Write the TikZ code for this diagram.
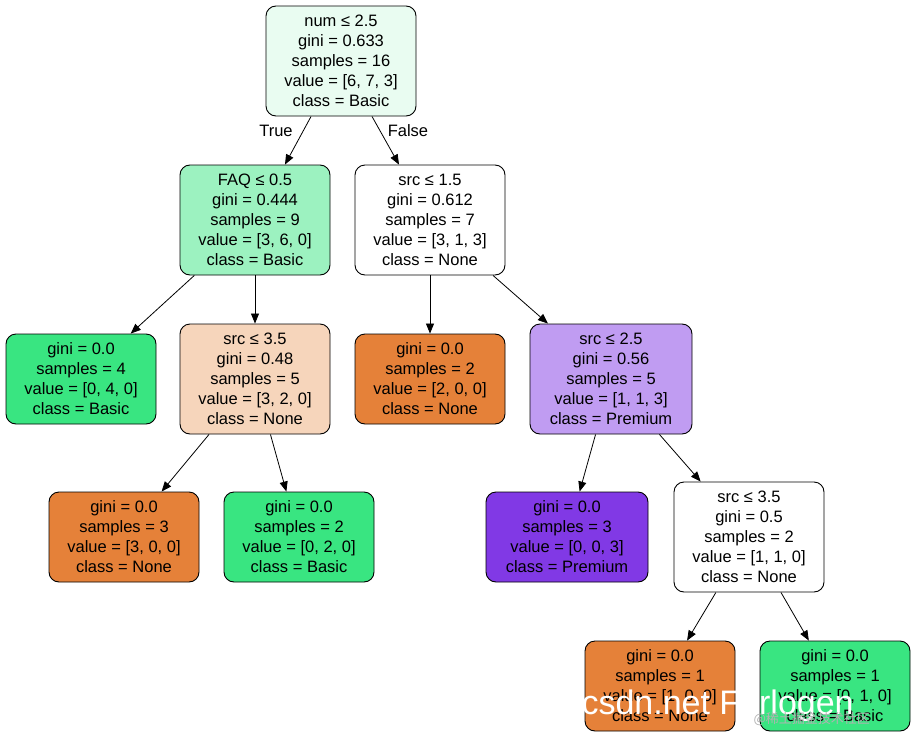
\documentclass[tikz,border=0pt]{standalone}
\usepackage{fontspec}
\setmainfont{Liberation Sans}
\newfontfamily\cjk{Noto Sans CJK SC}
\usetikzlibrary{arrows.meta}
\definecolor{croot}{HTML}{E9FCF1}
\definecolor{cfaq}{HTML}{9CF2C0}
\definecolor{csrcb}{HTML}{F6D5BB}
\definecolor{corange}{HTML}{E58139}
\definecolor{cgreen}{HTML}{39E581}
\definecolor{cpurple}{HTML}{8139E5}
\definecolor{clav}{HTML}{C09CF2}
\tikzset{
 tn/.style={draw=black, line width=0.9pt, rounded corners=10pt, align=center, inner sep=0pt,
   minimum width=150pt, font=\fontsize{16.5}{20}\selectfont},
 big/.style={tn, minimum height=110pt},
 small/.style={tn, minimum height=90pt},
 edge/.style={-{Triangle[length=10pt,width=8pt]}, line width=0.8pt},
 lbl/.style={font=\fontsize{16.5}{20}\selectfont}
}
\begin{document}
\begin{tikzpicture}[x=1pt,y=-1pt]
\useasboundingbox (0,0) rectangle (916,736);
\node[big, fill=croot] (r) at (341,61) {num ≤ 2.5\\gini = 0.633\\samples = 16\\value = [6, 7, 3]\\class = Basic};
\node[big, fill=cfaq] (a) at (255,220) {FAQ ≤ 0.5\\gini = 0.444\\samples = 9\\value = [3, 6, 0]\\class = Basic};
\node[big, fill=white] (b) at (430,220) {src ≤ 1.5\\gini = 0.612\\samples = 7\\value = [3, 1, 3]\\class = None};
\node[small, fill=cgreen] (c) at (81,379) {gini = 0.0\\samples = 4\\value = [0, 4, 0]\\class = Basic};
\node[big, fill=csrcb] (d) at (255,379) {src ≤ 3.5\\gini = 0.48\\samples = 5\\value = [3, 2, 0]\\class = None};
\node[small, fill=corange] (e) at (430,379) {gini = 0.0\\samples = 2\\value = [2, 0, 0]\\class = None};
\node[big, fill=clav, minimum width=162pt] (f) at (611,379) {src ≤ 2.5\\gini = 0.56\\samples = 5\\value = [1, 1, 3]\\class = Premium};
\node[small, fill=corange] (g) at (124,537) {gini = 0.0\\samples = 3\\value = [3, 0, 0]\\class = None};
\node[small, fill=cgreen] (h) at (299,537) {gini = 0.0\\samples = 2\\value = [0, 2, 0]\\class = Basic};
\node[small, fill=cpurple, minimum width=162pt] (i) at (567,537) {gini = 0.0\\samples = 3\\value = [0, 0, 3]\\class = Premium};
\node[big, fill=white] (j) at (749,537) {src ≤ 3.5\\gini = 0.5\\samples = 2\\value = [1, 1, 0]\\class = None};
\node[small, fill=corange] (k) at (660,686) {gini = 0.0\\samples = 1\\value = [1, 0, 0]\\class = None};
\node[small, fill=cgreen] (l) at (835,686) {gini = 0.0\\samples = 1\\value = [0, 1, 0]\\class = Basic};
\draw[edge] (r) -- (a);
\draw[edge] (r) -- (b);
\draw[edge] (a) -- (c);
\draw[edge] (a) -- (d);
\draw[edge] (b) -- (e);
\draw[edge] (b) -- (f);
\draw[edge] (d) -- (g);
\draw[edge] (d) -- (h);
\draw[edge] (f) -- (i);
\draw[edge] (f) -- (j);
\draw[edge] (j) -- (k);
\draw[edge] (j) -- (l);
\node[lbl] (tl) at (276,131) {True};
\node[lbl] (fl) at (408,131) {False};
\node[text=white, font=\fontsize{34}{34}\selectfont, anchor=west] (wm) at (578,706) {csdn.net Forlogen};
\node[text=gray!60, font=\cjk\fontsize{13}{13}\selectfont, anchor=west] (wm2) at (750,719) {@稀土掘金技术社区};
\end{tikzpicture}
\end{document}
